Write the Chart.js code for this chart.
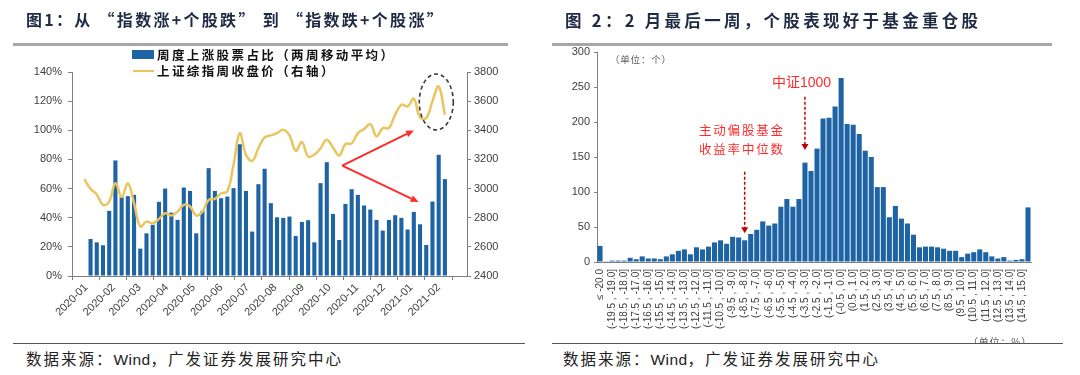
<!DOCTYPE html>
<html><head><meta charset="utf-8">
<script src="https://cdn.jsdelivr.net/npm/chart.js@4.4.1/dist/chart.umd.min.js"></script>
<style>
html,body{margin:0;padding:0;background:#fff;}
#root{position:relative;width:1080px;height:375px;overflow:hidden;background:#fff;}
.t{position:absolute;white-space:nowrap;}
.box{position:absolute;}
.title{font-family:"Noto Sans CJK SC";font-weight:bold;font-size:16px;line-height:20px;color:#1f2a44;}
.foot{font-family:"Liberation Sans","Noto Sans CJK SC";font-size:15.5px;line-height:20px;color:#222;letter-spacing:2px;}
.foot span{letter-spacing:0.4px;}
.leg{font-family:"Noto Sans CJK SC";font-weight:bold;font-size:12.5px;line-height:16px;color:#111;letter-spacing:2.4px;}
.red{font-family:"Liberation Sans","Noto Sans CJK SC";color:#ff2b2b;}
.unit{font-family:"Noto Sans CJK SC";font-size:9.5px;line-height:12px;color:#595959;letter-spacing:0.8px;}
.hr{position:absolute;}
</style></head><body>
<div id="root">
  <div class="box" style="left:0;top:0;width:540px;height:340px"><canvas id="c1" width="540" height="340"></canvas></div>
  <div class="box" style="left:540px;top:0;width:540px;height:340px"><canvas id="c2" width="540" height="340"></canvas></div>

  <div class="t title" style="left:26px;top:9px;letter-spacing:2.3px">图1：从 “指数涨+个股跌” 到 “指数跌+个股涨”</div>
  <div class="t title" style="left:565px;top:10px;font-size:16.5px;letter-spacing:3.3px">图 2：2 月最后一周，个股表现好于基金重仓股</div>
  <div class="hr" style="left:13px;top:43px;width:495px;height:2.5px;background:#a6a6a6"></div>
  <div class="hr" style="left:552px;top:43px;width:500px;height:2.5px;background:#a6a6a6"></div>

  <div class="box" style="left:132px;top:49.5px;width:22px;height:9px;background:#1E64A5"></div>
  <div class="t leg" style="left:157px;top:46.5px">周度上涨股票占比（两周移动平均）</div>
  <div class="box" style="left:133px;top:69.7px;width:21px;height:2.6px;background:#E8C55E"></div>
  <div class="t leg" style="left:157px;top:63px">上证综指周收盘价（右轴）</div>

  <div class="t unit" style="left:610px;top:53px">（单位：个）</div>
  <div class="t red" style="left:772px;top:73px;font-size:14px;line-height:18px">中证1000</div>
  <div class="t red" style="left:699px;top:123px;font-size:12.5px;line-height:16px;letter-spacing:1.8px">主动偏股基金</div>
  <div class="t red" style="left:699px;top:142px;font-size:12.5px;line-height:16px;letter-spacing:1.8px">收益率中位数</div>
  <div class="box" style="left:968px;top:336px;width:70px;height:7px;overflow:hidden"><div class="t unit" style="left:0;top:0;font-size:10px">（单位：%）</div></div>

  <div class="hr" style="left:13px;top:342.5px;width:512px;height:1.5px;background:#555"></div>
  <div class="hr" style="left:552px;top:342.5px;width:511px;height:1.5px;background:#555"></div>
  <div class="t foot" style="left:26px;top:350px">数据来源：<span>Wind</span>，广发证券发展研究中心</div>
  <div class="t foot" style="left:563px;top:350px">数据来源：<span>Wind</span>，广发证券发展研究中心</div>
</div>
<script>
// ---------- Chart 1 data ----------
const weekStarts = ['2019-12-30','2020-01-06','2020-01-13','2020-01-20','2020-01-27','2020-02-03','2020-02-10','2020-02-17','2020-02-24','2020-03-02','2020-03-09','2020-03-16','2020-03-23','2020-03-30','2020-04-06','2020-04-13','2020-04-20','2020-04-27','2020-05-04','2020-05-11','2020-05-18','2020-05-25','2020-06-01','2020-06-08','2020-06-15','2020-06-22','2020-06-29','2020-07-06','2020-07-13','2020-07-20','2020-07-27','2020-08-03','2020-08-10','2020-08-17','2020-08-24','2020-08-31','2020-09-07','2020-09-14','2020-09-21','2020-09-28','2020-10-05','2020-10-12','2020-10-19','2020-10-26','2020-11-02','2020-11-09','2020-11-16','2020-11-23','2020-11-30','2020-12-07','2020-12-14','2020-12-21','2020-12-28','2021-01-04','2021-01-11','2021-01-18','2021-01-25','2021-02-01','2021-02-08'];
const riseShare = [null,25.4,23.1,21.1,44.7,79.3,54.1,54.8,55.7,18.8,29.3,35.1,50.9,60.0,43.5,38.5,60.7,58.4,29.3,44.7,74.0,58.4,53.4,54.5,60.3,90.5,58.4,30.5,63.0,73.6,50.0,40.3,39.9,40.8,27.5,37.1,38.3,23.1,63.7,78.1,42.6,24.7,49.5,59.6,55.7,48.4,45.6,38.5,31.2,38.5,41.7,39.9,31.9,44.0,35.5,21.3,51.1,83.2,66.5];
const shClose = [3065,2998,2960,2888,2911,3037,2942,3035,2898,2741,2773,2762,2792,2831,2815,2842,2888,2877,2815,2842,2922,2929,2968,2980,3163,3381,3232,3190,3277,3351,3365,3381,3403,3365,3259,3319,3220,3232,3277,3335,3281,3227,3305,3310,3381,3408,3442,3358,3415,3415,3507,3575,3564,3617,3489,3484,3600,3701,3507];
const monthTicks = ['2020-01','2020-02','2020-03','2020-04','2020-05','2020-06','2020-07','2020-08','2020-09','2020-10','2020-11','2020-12','2021-01','2021-02'];
const leftTicks = [0,20,40,60,80,100,120,140];
const rightTicks = [2400,2600,2800,3000,3200,3400,3600,3800];
// annotation anchors in data units: [day, index value]
const arrowFrom = [288.4, 3158], arrowUp = [369.2, 3399], arrowDown = [374.4, 2907], ringCenter = [394.3, 3594];

// ---------- Chart 2 data ----------
const binLabels = ['≤ -20.0','(-20.0 , -19.5]','(-19.5 , -19.0]','(-19.0 , -18.5]','(-18.5 , -18.0]','(-18.0 , -17.5]','(-17.5 , -17.0]','(-17.0 , -16.5]','(-16.5 , -16.0]','(-16.0 , -15.5]','(-15.5 , -15.0]','(-15.0 , -14.5]','(-14.5 , -14.0]','(-14.0 , -13.5]','(-13.5 , -13.0]','(-13.0 , -12.5]','(-12.5 , -12.0]','(-12.0 , -11.5]','(-11.5 , -11.0]','(-11.0 , -10.5]','(-10.5 , -10.0]','(-10.0 , -9.5]','(-9.5 , -9.0]','(-9.0 , -8.5]','(-8.5 , -8.0]','(-8.0 , -7.5]','(-7.5 , -7.0]','(-7.0 , -6.5]','(-6.5 , -6.0]','(-6.0 , -5.5]','(-5.5 , -5.0]','(-5.0 , -4.5]','(-4.5 , -4.0]','(-4.0 , -3.5]','(-3.5 , -3.0]','(-3.0 , -2.5]','(-2.5 , -2.0]','(-2.0 , -1.5]','(-1.5 , -1.0]','(-1.0 , -0.5]','(-0.5 , 0.0]','(0.0 , 0.5]','(0.5 , 1.0]','(1.0 , 1.5]','(1.5 , 2.0]','(2.0 , 2.5]','(2.5 , 3.0]','(3.0 , 3.5]','(3.5 , 4.0]','(4.0 , 4.5]','(4.5 , 5.0]','(5.0 , 5.5]','(5.5 , 6.0]','(6.0 , 6.5]','(6.5 , 7.0]','(7.0 , 7.5]','(7.5 , 8.0]','(8.0 , 8.5]','(8.5 , 9.0]','(9.0 , 9.5]','(9.5 , 10.0]','(10.0 , 10.5]','(10.5 , 11.0]','(11.0 , 11.5]','(11.5 , 12.0]','(12.0 , 12.5]','(12.5 , 13.0]','(13.0 , 13.5]','(13.5 , 14.0]','(14.0 , 14.5]','(14.5 , 15.0]','> 15.0'];
const stockCounts = [23,1,2,2,2,6,4,8,5,5,4,8,11,16,18,11,21,18,22,28,31,26,36,35,31,40,46,58,52,55,79,90,79,90,142,130,162,205,206,222,263,197,196,183,159,150,107,107,64,80,62,55,39,21,22,22,21,19,16,16,7,12,14,18,14,8,5,7,2,3,4,78];
const countTicks = [0,50,100,150,200,250,300];
const markArrows = [{bin: 34, from: 236, to: 160}, {bin: 24, from: 129, to: 41}];

// ---------- helpers ----------
const dayOf = s => { const [y,m,d] = s.split('-').map(Number); return (Date.UTC(y,m-1,d) - Date.UTC(2020,0,1)) / 86400000; };
const monthDays = monthTicks.map(m => dayOf(m + '-01'));
Chart.defaults.font.family = "'Liberation Sans', Arial, sans-serif";
Chart.defaults.color = '#404040';
const AX = '#808080', BLUE = '#1E64A5', GOLD = '#E8C55E';

function drawArrow(ctx, from, to, head, w) {
  const ang = Math.atan2(to[1]-from[1], to[0]-from[0]);
  const bx = to[0] - head*Math.cos(ang), by = to[1] - head*Math.sin(ang);
  ctx.beginPath(); ctx.moveTo(from[0], from[1]); ctx.lineTo(bx, by); ctx.stroke();
  ctx.beginPath(); ctx.moveTo(to[0], to[1]);
  ctx.lineTo(bx + w*Math.sin(ang), by - w*Math.cos(ang));
  ctx.lineTo(bx - w*Math.sin(ang), by + w*Math.cos(ang));
  ctx.closePath(); ctx.fill();
}

const leftAnno = {
  id: 'leftAnno',
  afterDatasetsDraw(chart) {
    const {ctx, scales: {x, y1}} = chart;
    const P = p => [x.getPixelForValue(p[0]), y1.getPixelForValue(p[1])];
    const o = P(arrowFrom);
    ctx.save();
    ctx.strokeStyle = '#FF2B2B'; ctx.fillStyle = '#FF2B2B'; ctx.lineWidth = 2;
    drawArrow(ctx, o, P(arrowUp), 8, 3.5);
    drawArrow(ctx, o, P(arrowDown), 8, 3.5);
    const c = P(ringCenter);
    ctx.setLineDash([4, 3]); ctx.strokeStyle = '#3a3a3a'; ctx.lineWidth = 1.6;
    ctx.beginPath(); ctx.ellipse(c[0], c[1], 17, 28, 0, 0, Math.PI*2); ctx.stroke();
    ctx.restore();
  }
};

new Chart(document.getElementById('c1'), {
  type: 'bar',
  data: {
    datasets: [
      { type: 'line', label: '上证综指周收盘价（右轴）', yAxisID: 'y1', order: 0,
        data: weekStarts.map((d, i) => ({x: dayOf(d), y: shClose[i]})),
        borderColor: GOLD, borderWidth: 2.5, pointRadius: 0, tension: 0.4, fill: false },
      { type: 'bar', label: '周度上涨股票占比（两周移动平均）', yAxisID: 'y', order: 1,
        data: weekStarts.map((d, i) => ({x: dayOf(d), y: riseShare[i]})),
        backgroundColor: BLUE, categoryPercentage: 1, barPercentage: 0.66 }
    ]
  },
  options: {
    responsive: false, animation: false, devicePixelRatio: 1,
    layout: { padding: { top: 72, left: 0, right: 33, bottom: 14 } },
    plugins: { legend: { display: false }, tooltip: { enabled: false } },
    scales: {
      x: { type: 'linear', min: 0, max: 413,
        afterBuildTicks: s => { s.ticks = monthDays.map(v => ({value: v})); },
        afterFit: s => { s.height = 50; },
        ticks: { autoSkip: false, minRotation: 45, maxRotation: 45, padding: 1, font: {size: 11}, color: '#404040',
          callback: v => { const i = monthDays.indexOf(v); return i >= 0 ? monthTicks[i] : ''; } },
        grid: { drawOnChartArea: false, drawTicks: true, tickLength: 4, color: AX },
        border: { color: AX, width: 1 } },
      y: { position: 'left', min: 0, max: 140,
        afterBuildTicks: s => { s.ticks = leftTicks.map(v => ({value: v})); },
        afterFit: s => { s.width = 72; },
        ticks: { padding: 6, font: {size: 11}, color: '#404040', callback: v => v + '%' },
        grid: { drawOnChartArea: false, drawTicks: true, tickLength: 4, color: AX },
        border: { color: AX, width: 1 } },
      y1: { position: 'right', min: 2400, max: 3800,
        afterBuildTicks: s => { s.ticks = rightTicks.map(v => ({value: v})); },
        afterFit: s => { s.width = 40; },
        ticks: { padding: 3, font: {size: 11}, color: '#404040', callback: v => String(v) },
        grid: { drawOnChartArea: false, drawTicks: true, tickLength: 4, color: AX },
        border: { color: AX, width: 1 } }
    }
  },
  plugins: [leftAnno]
});

const rightAnno = {
  id: 'rightAnno',
  afterDatasetsDraw(chart) {
    const {ctx, scales: {x, y}} = chart;
    markArrows.forEach(a => {
      const px = x.getPixelForValue(a.bin);
      const y0 = y.getPixelForValue(a.from), yt = y.getPixelForValue(a.to);
      ctx.save();
      ctx.strokeStyle = '#C00000'; ctx.fillStyle = '#C00000'; ctx.lineWidth = 1.5;
      ctx.setLineDash([3, 2]);
      ctx.beginPath(); ctx.moveTo(px, y0); ctx.lineTo(px, yt - 5); ctx.stroke();
      ctx.setLineDash([]);
      ctx.beginPath(); ctx.moveTo(px - 3.5, yt - 6); ctx.lineTo(px + 3.5, yt - 6); ctx.lineTo(px, yt); ctx.closePath(); ctx.fill();
      ctx.restore();
    });
  }
};

new Chart(document.getElementById('c2'), {
  type: 'bar',
  data: { labels: binLabels,
    datasets: [{ label: '个股数量', data: stockCounts, backgroundColor: BLUE, categoryPercentage: 1, barPercentage: 0.84 }] },
  options: {
    responsive: false, animation: false, devicePixelRatio: 1,
    layout: { padding: { top: 52, left: 0, right: 49, bottom: 8 } },
    plugins: { legend: { display: false }, tooltip: { enabled: false } },
    scales: {
      x: { afterFit: s => { s.height = 70; },
        ticks: { autoSkip: false, minRotation: 90, maxRotation: 90, padding: 7, font: {size: 10}, color: '#404040',
          callback: (v, i) => (i % 2 === 0 ? binLabels[i] : '') },
        grid: { display: false, drawTicks: false },
        border: { color: AX, width: 1 } },
      y: { min: 0, max: 300,
        afterBuildTicks: s => { s.ticks = countTicks.map(v => ({value: v})); },
        afterFit: s => { s.width = 57; },
        ticks: { padding: 4, font: {size: 11}, color: '#404040' },
        grid: { drawOnChartArea: false, drawTicks: true, tickLength: 3, color: AX },
        border: { color: AX, width: 1 } }
    }
  },
  plugins: [rightAnno]
});
</script>
</body></html>
